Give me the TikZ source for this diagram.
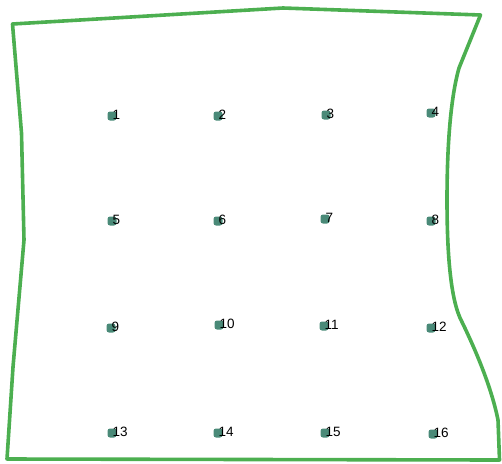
\documentclass[tikz,border=0pt]{standalone}
\usepackage{fontspec}
\setmainfont{Liberation Sans}
\definecolor{edgegreen}{HTML}{4CAF50}
\definecolor{dotteal}{HTML}{4A8A78}
\begin{document}
\begin{tikzpicture}[x=1pt,y=-1pt,
  outline/.style={draw=edgegreen,line width=3.6pt,line join=round},
  pt/.style={rectangle,rounded corners=2.5pt,fill=dotteal,inner sep=0pt,minimum size=9pt},
  lbl/.style={anchor=base west,inner sep=0pt,font=\fontsize{13.5}{13.5}\selectfont}]
\useasboundingbox (0,0) rectangle (502,463);
\draw[outline] (12.5,24) -- (283,8) -- (480.5,15) -- (459,68)
  .. controls (450,100) and (447,150) .. (447,200)
  .. controls (447,250) and (450,300) .. (462,322)
  .. controls (478,355) and (492,390) .. (498,420)
  -- (499.5,460) -- (7,459) -- (13,367) -- (24,240) -- (21.5,133) -- cycle;
\foreach \n/\x/\y in {1/112/116,2/218/116,3/326/115,4/431/113,
  5/112/221,6/218/221,7/325/219,8/431/221,
  9/111/328,10/219/325,11/324/326,12/431/328,
  13/112/433,14/218/433,15/325/433,16/433/434}{
  \node[pt] (p\n) at (\x,\y) {};
  \node[lbl] (l\n) at ([xshift=0.5pt,yshift=-3pt]p\n.center) {\n};
}
\end{tikzpicture}
\end{document}
